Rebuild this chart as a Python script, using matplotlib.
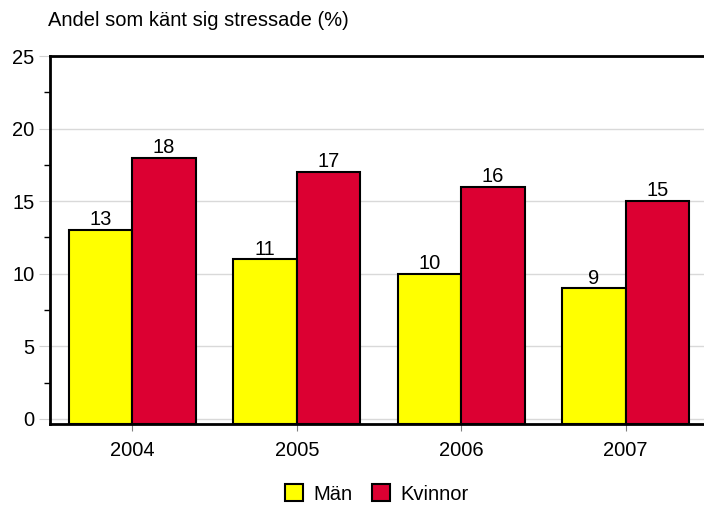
import matplotlib.pyplot as plt
import numpy as np

plt.rcParams['font.family'] = ['Liberation Sans', 'DejaVu Sans']

years = ['2004', '2005', '2006', '2007']
men = [13, 11, 10, 9]
women = [18, 17, 16, 15]
series_names = ['Män', 'Kvinnor']
yticks = [0, 5, 10, 15, 20, 25]

FS = 14.5

fig = plt.figure(figsize=(7.04, 5.09), dpi=100)
ax = fig.add_axes([50 / 704, 1 - 424 / 509, 658 / 704, (424 - 56) / 509])

x = np.arange(len(years))
w = 0.385
base = -0.35
b1 = ax.bar(x - w / 2, np.array(men) - base, w, bottom=base, color='#ffff00',
            edgecolor='black', linewidth=1.5, label=series_names[0], zorder=3)
b2 = ax.bar(x + w / 2, np.array(women) - base, w, bottom=base, color='#dc0032',
            edgecolor='black', linewidth=1.5, label=series_names[1], zorder=3)

for xi, v in zip(x - w / 2, men):
  ax.text(xi, v + 0.05, str(v), ha='center', va='bottom', fontsize=FS)
for xi, v in zip(x + w / 2, women):
  ax.text(xi, v + 0.05, str(v), ha='center', va='bottom', fontsize=FS)

ax.set_xlim(-0.5, 3.5)
ax.set_ylim(base, 25)
ax.set_yticks(yticks)
ax.set_yticks(np.arange(2.5, 25, 5), minor=True)
ax.set_xticks(x)
ax.set_xticklabels(years)
ax.yaxis.grid(True, color='#d9d9d9', linewidth=1, zorder=0)
ax.tick_params(axis='y', which='major', length=8, color='#d0d0d0',
               labelsize=FS, pad=3)
ax.tick_params(axis='y', which='minor', length=4, width=1, color='black')
ax.tick_params(axis='x', length=5, color='#808080', labelsize=FS, pad=7)

for s in ['left', 'bottom', 'top']:
  ax.spines[s].set_linewidth(2)
  ax.spines[s].set_color('black')
ax.spines['right'].set_visible(False)

fig.text(48 / 704, 1 - 20 / 509, 'Andel som känt sig stressade (%)',
         fontsize=FS, ha='left', va='center')

leg = fig.legend(handles=[b1, b2], labels=series_names, loc='center',
                 bbox_to_anchor=(0.535, 1 - 494 / 509), ncol=2, frameon=False,
                 fontsize=FS, handlelength=0.9, handleheight=0.9,
                 handletextpad=0.5, columnspacing=1.0)

fig.savefig('out.png', dpi=100)
